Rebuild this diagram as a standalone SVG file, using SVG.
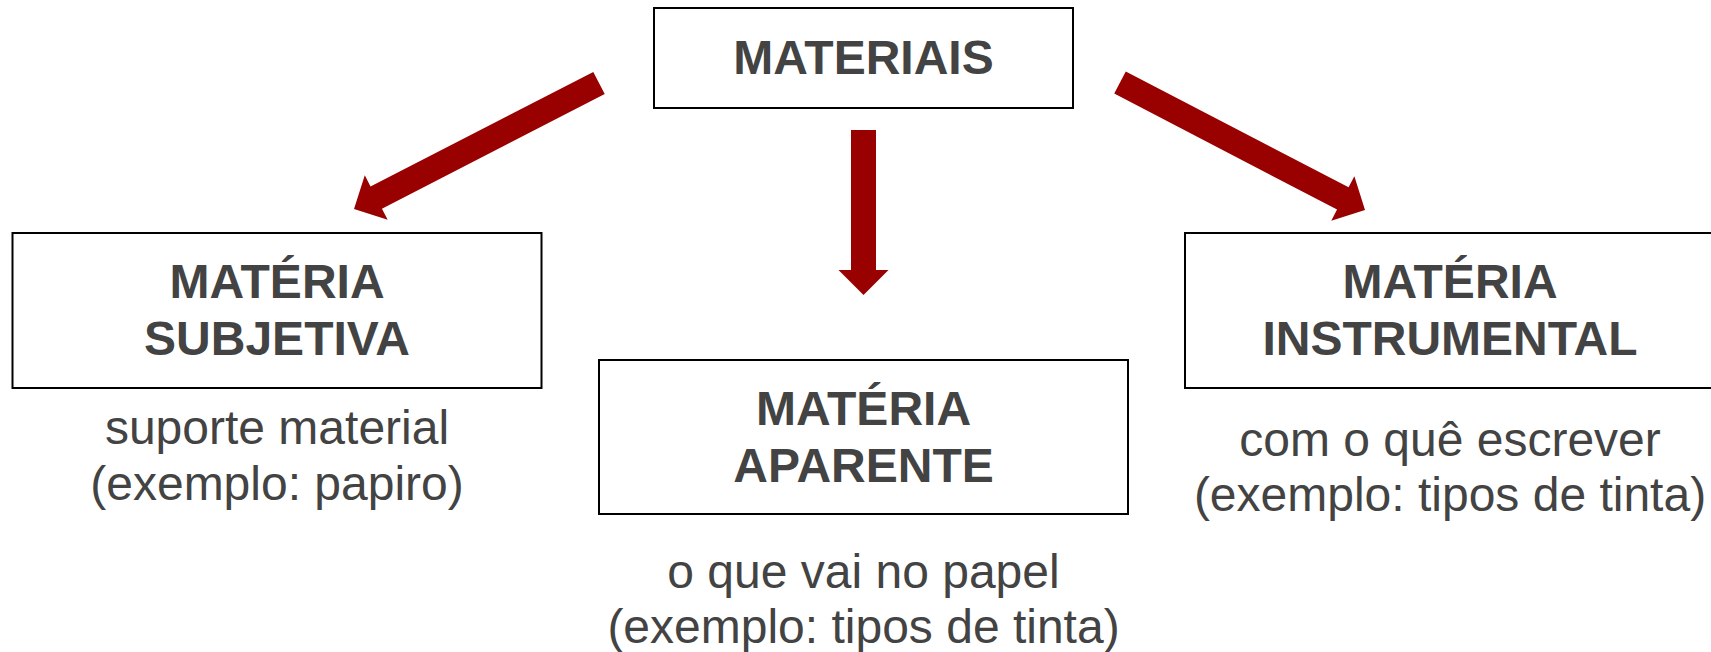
<svg xmlns="http://www.w3.org/2000/svg" width="1711" height="652" viewBox="0 0 1711 652">
<style>
.box{fill:#ffffff;stroke:#000000;stroke-width:2}
.t{font-family:"Liberation Sans",Arial,sans-serif;font-size:48px;fill:#434343;text-anchor:middle}
.b{font-weight:bold}
.arrow{fill:#990000;stroke:none}
</style>
<rect x="0" y="0" width="1711" height="652" fill="#ffffff"/>
<g id="connectors">
<polygon class="arrow" points="593.28,71.88 604.72,94.12 381.95,208.69 387.67,219.80 354,209 364.80,175.34 370.51,186.45"/>
<polygon class="arrow" points="851,130 876,130 876,270 888.5,270 863.5,295 838.5,270 851,270"/>
<polygon class="arrow" points="1125.77,71.41 1114.23,93.59 1337.05,209.55 1331.28,220.64 1365,210 1354.36,176.28 1348.59,187.37"/>
</g>
<g id="materiais">
<rect class="box" x="654" y="8" width="419" height="100"/>
<text class="t b" x="863.5" y="74">MATERIAIS</text>
</g>
<g id="materia-subjetiva">
<rect class="box" x="12.5" y="233" width="529" height="155"/>
<text class="t b" x="277" y="298">MATÉRIA</text>
<text class="t b" x="277" y="355">SUBJETIVA</text>
<text class="t" x="277" y="444">suporte material</text>
<text class="t" x="277" y="500">(exemplo: papiro)</text>
</g>
<g id="materia-aparente">
<rect class="box" x="599" y="360" width="529" height="154"/>
<text class="t b" x="863.5" y="425">MATÉRIA</text>
<text class="t b" x="863.5" y="482">APARENTE</text>
<text class="t" x="863.5" y="588">o que vai no papel</text>
<text class="t" x="863.5" y="643">(exemplo: tipos de tinta)</text>
</g>
<g id="materia-instrumental">
<rect class="box" x="1185" y="233" width="530" height="155"/>
<text class="t b" x="1450" y="298">MATÉRIA</text>
<text class="t b" x="1450" y="355">INSTRUMENTAL</text>
<text class="t" x="1450" y="456">com o quê escrever</text>
<text class="t" x="1450" y="511">(exemplo: tipos de tinta)</text>
</g>
</svg>
